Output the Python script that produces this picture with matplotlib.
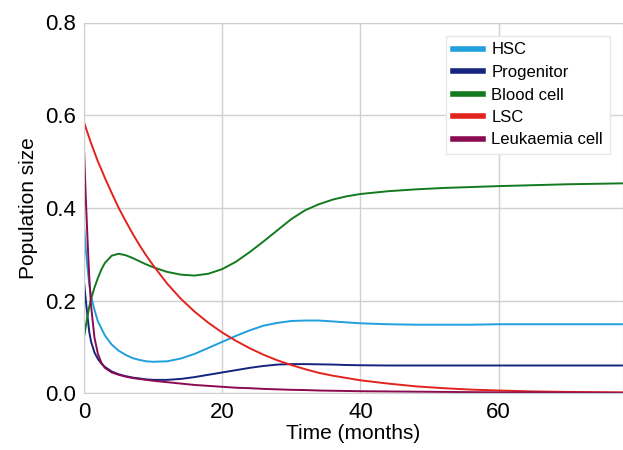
import matplotlib.pyplot as plt

plt.rcParams['font.family'] = ['Liberation Sans', 'DejaVu Sans']

# time points (months)
t = [0, 0.25, 0.5, 0.75, 1, 1.5, 2, 2.5, 3, 4, 5, 6, 7, 8, 9, 10, 12, 14, 16, 18,
     20, 22, 24, 26, 28, 30, 32, 34, 36, 38, 40, 44, 48, 52, 56, 60, 65, 70, 78]

hsc = [0.36, 0.31, 0.27, 0.235, 0.21, 0.18, 0.155, 0.14, 0.125, 0.105, 0.092, 0.083,
       0.076, 0.072, 0.069, 0.068, 0.069, 0.075, 0.085, 0.098, 0.111, 0.124, 0.136,
       0.146, 0.152, 0.156, 0.157, 0.157, 0.155, 0.153, 0.151, 0.149, 0.148, 0.148,
       0.148, 0.149, 0.149, 0.149, 0.149]

progenitor = [0.238, 0.2, 0.165, 0.132, 0.112, 0.088, 0.074, 0.064, 0.057, 0.047,
              0.041, 0.037, 0.034, 0.032, 0.030, 0.029, 0.029, 0.031, 0.035, 0.040,
              0.045, 0.050, 0.055, 0.059, 0.062, 0.063, 0.063, 0.0625, 0.062, 0.061,
              0.0605, 0.06, 0.06, 0.06, 0.06, 0.06, 0.06, 0.06, 0.06]

blood = [0.122, 0.145, 0.167, 0.187, 0.203, 0.228, 0.249, 0.267, 0.281, 0.297, 0.301,
         0.298, 0.292, 0.285, 0.278, 0.272, 0.262, 0.256, 0.254, 0.258, 0.268, 0.284,
         0.305, 0.328, 0.352, 0.376, 0.395, 0.408, 0.418, 0.425, 0.43, 0.436, 0.44,
         0.443, 0.445, 0.447, 0.449, 0.451, 0.453]

lsc = [0.584, 0.573, 0.562, 0.551, 0.54, 0.52, 0.50, 0.483, 0.465, 0.432, 0.40,
       0.372, 0.345, 0.32, 0.297, 0.276, 0.237, 0.204, 0.176, 0.152, 0.131, 0.113,
       0.097, 0.083, 0.071, 0.061, 0.052, 0.044, 0.038, 0.033, 0.028, 0.021, 0.015,
       0.011, 0.008, 0.006, 0.004, 0.003, 0.002]

leuk = [0.52, 0.42, 0.33, 0.25, 0.19, 0.12, 0.085, 0.066, 0.055, 0.045, 0.04, 0.036,
        0.033, 0.031, 0.029, 0.027, 0.024, 0.021, 0.018, 0.016, 0.014, 0.012, 0.011,
        0.0095, 0.0085, 0.0075, 0.007, 0.006, 0.0055, 0.005, 0.0045, 0.004, 0.0035,
        0.003, 0.0025, 0.002, 0.002, 0.0015, 0.001]

series = [
    ('HSC', hsc, '#1f9fdc'),
    ('Progenitor', progenitor, '#14247f'),
    ('Blood cell', blood, '#137a1f'),
    ('LSC', lsc, '#e2231d'),
    ('Leukaemia cell', leuk, '#8b0b52'),
]

fig = plt.figure(figsize=(6.23, 4.5), dpi=100)
ax = fig.add_axes([0.135, 0.126, 0.865, 0.824])

for name, vals, col in series:
    ax.plot(t, vals, color=col, lw=1.4, label=name)

ax.set_xlim(0, 78)
ax.set_ylim(0, 0.8)
ax.set_xticks([0, 20, 40, 60])
ax.set_yticks([0.0, 0.2, 0.4, 0.6, 0.8])
ax.set_yticklabels(['0.0', '0.2', '0.4', '0.6', '0.8'])
ax.grid(True, color='#d0d0d0', lw=1)
ax.set_axisbelow(True)
for s in ax.spines.values():
    s.set_color('#d0d0d0')
ax.tick_params(length=0, labelsize=16, pad=6)
ax.set_xlabel('Time (months)', fontsize=15, labelpad=1)
ax.set_ylabel('Population size', fontsize=15, labelpad=5)

leg = ax.legend(loc='upper right', fontsize=12, labelspacing=0.45, handlelength=1.8,
                handletextpad=0.5, borderaxespad=0.8, fancybox=False,
                edgecolor='#e8e8e8', framealpha=1)
for ln in leg.get_lines():
    ln.set_linewidth(4)

fig.savefig('out.png', dpi=100)
